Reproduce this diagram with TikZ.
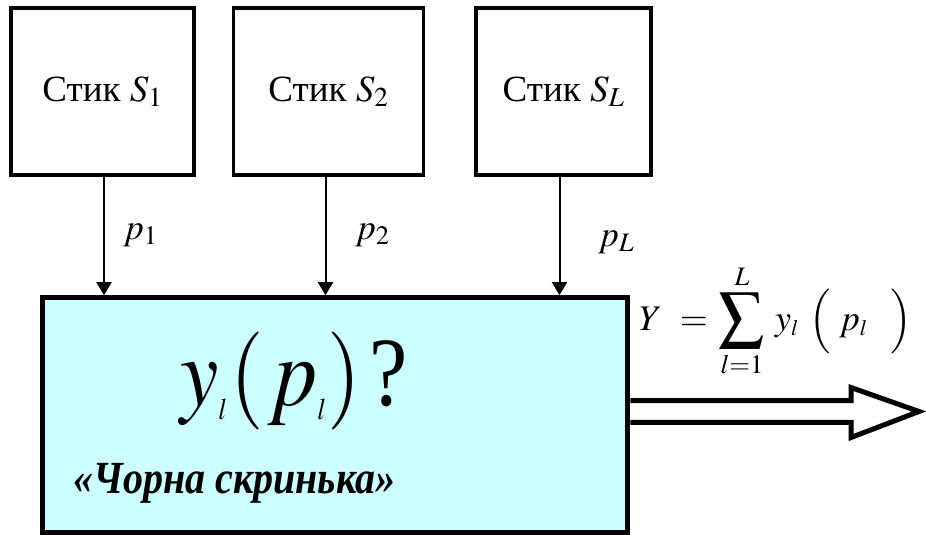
\documentclass[tikz,border=0pt]{standalone}
\usepackage{mathptmx}
\usepackage{fontspec}
\setmainfont{Liberation Serif}
\usepackage{xcolor}
\usepackage{graphicx}
\usetikzlibrary{arrows.meta, positioning}
\definecolor{boxcyan}{HTML}{CCFFFF}
\newcommand{\smalll}[1]{\mbox{\fontsize{#1}{#1}\selectfont$\mathit{l}$}}
\newcommand{\bigsum}{\mathop{\vcenter{\hbox{\scalebox{1.25}{$\displaystyle\sum$}}}}\limits}

\begin{document}
\begin{tikzpicture}[x=1pt, y=1pt, >={Triangle[length=13pt, width=15pt]},
    stick/.style={draw, line width=3.5pt, minimum height=167pt, inner sep=0pt,
        font=\fontsize{37}{40}\selectfont},
    feed/.style={->, line width=2pt},
    plab/.style={anchor=base west, inner sep=0pt, font=\fontsize{36}{40}\selectfont},
    outarrow/.style={line width=5pt, line join=miter}]
    \useasboundingbox (0,0) rectangle (926,-535);

    \node[stick, minimum width=183pt] (s1) at (102.5,-91.7) {Стик $S_1$};
    \node[stick, minimum width=190pt, right=36pt of s1] (s2) {Стик $S_2$};
    \node[stick, minimum width=175pt, right=49pt of s2] (sL) {Стик $S_L$};

    \node[draw, line width=5pt, fill=boxcyan, minimum width=585pt,
        minimum height=235pt, inner sep=0pt] (box) at (335.3,-415.2) {};
    \node[anchor=base west, inner sep=0pt, font=\fontsize{98}{110}\selectfont]
        (ask) at (180,-405)
        {\scalebox{0.88}[1]{$y_{\smalll{30}}\kern5pt(\kern4pt p_{\smalll{30}}\kern3pt)$\kern10pt?}};
    \node[anchor=base west, inner sep=0pt,
        font=\fontsize{46}{50}\selectfont\bfseries\itshape]
        (name) at (73,-493) {\scalebox{0.87}[1]{«Чорна скринька»}};

    \path[feed]
    ([xshift=1.5pt]s1.south) edge ([xshift=1.5pt]s1.south |- box.north)
    ([xshift=-3pt]s2.south) edge ([xshift=-3pt]s2.south |- box.north)
    ([xshift=-4pt]sL.south) edge ([xshift=-4pt]sL.south |- box.north);

    \node[plab] (p1) at (123,-239) {$p_1$};
    \node[plab] (p2) at (355,-239) {$p_2$};
    \node[plab] (pL) at (598,-246) {$p_L$};

    \node[anchor=base west, inner sep=0pt, font=\fontsize{36}{40}\selectfont]
        (sum) at (639,-330)
        {$Y\kern10pt=\kern3pt\bigsum_{l=1}^{L}\kern6pt y_{\smalll{22}}\kern12pt
         \Bigl(\kern8pt p_{\smalll{22}}\kern24pt\Bigr)$};

    \coordinate (tip) at (919,-411.5);
    \draw[outarrow] (box.east |- 0,-400.7) -- (851,-400.7) -- (851,-387.5)
        -- (tip) -- (851,-437.5) -- (851,-422.3) -- (box.east |- 0,-422.3);
\end{tikzpicture}
\end{document}
